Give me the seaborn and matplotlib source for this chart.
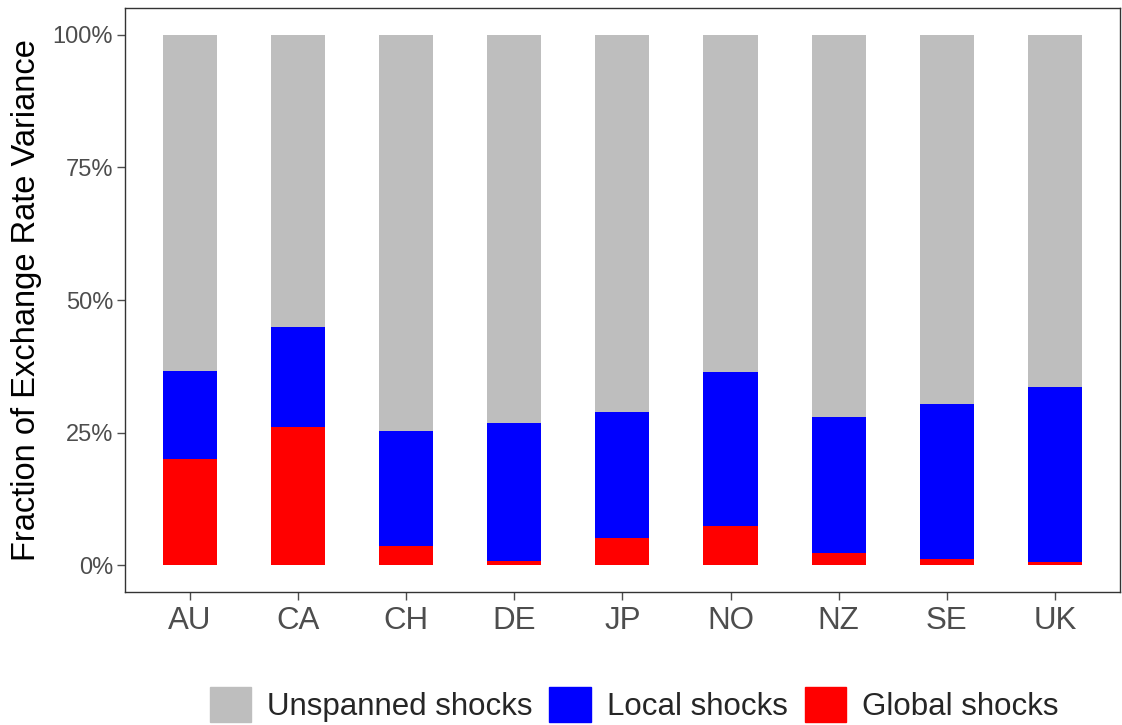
import numpy as np
import pandas as pd
import matplotlib
matplotlib.use('Agg')
import matplotlib.pyplot as plt
import matplotlib.patches as mpatches
import seaborn as sns

countries = ['AU', 'CA', 'CH', 'DE', 'JP', 'NO', 'NZ', 'SE', 'UK']
global_shocks = [20.0, 26.0, 3.7, 0.85, 5.2, 7.5, 2.4, 1.2, 0.7]
local_shocks = [16.7, 19.0, 21.6, 25.95, 23.8, 29.0, 25.5, 29.3, 33.0]
unspanned_shocks = [63.3, 55.0, 74.7, 73.2, 71.0, 63.5, 72.1, 69.5, 66.3]

df = pd.DataFrame({'country': countries, 'global': global_shocks,
                   'local': local_shocks, 'unspanned': unspanned_shocks})
df['top_local'] = df['global'] + df['local']
df['top_all'] = df['top_local'] + df['unspanned']

sns.set_style('white')
plt.rcParams['font.family'] = ['Liberation Sans', 'DejaVu Sans']

fig = plt.figure(figsize=(11.22, 7.25), dpi=100)
ax = fig.add_axes([0.1114, 0.1834, 0.998 - 0.1114, 0.989 - 0.1834])

# stacked bars: draw the running totals back to front
sns.barplot(data=df, x='country', y='top_all', color='#BEBEBE', width=0.5, ax=ax,
            saturation=1, linewidth=0, edgecolor='none')
sns.barplot(data=df, x='country', y='top_local', color='#0000FF', width=0.5, ax=ax,
            saturation=1, linewidth=0, edgecolor='none')
sns.barplot(data=df, x='country', y='global', color='#FF0000', width=0.5, ax=ax,
            saturation=1, linewidth=0, edgecolor='none')

ax.set_xlim(-0.6, 8.6)
ax.set_ylim(-5, 105)
ax.set_yticks([0, 25, 50, 75, 100])
ax.set_yticklabels(['0%', '25%', '50%', '75%', '100%'])
ax.set_xlabel('')
ax.set_ylabel('Fraction of Exchange Rate Variance', fontsize=23.5, color='black', labelpad=8)
ax.tick_params(axis='y', labelsize=17, colors='#4D4D4D', length=6, width=1, pad=2.5, left=True)
ax.tick_params(axis='x', labelsize=22.5, colors='#4D4D4D', length=6, width=1, pad=4, bottom=True)
for s in ax.spines.values():
    s.set_visible(True)
    s.set_color('#333333')
    s.set_linewidth(1)

handles = [mpatches.Patch(color='#BEBEBE', label='Unspanned shocks'),
           mpatches.Patch(color='#0000FF', label='Local shocks'),
           mpatches.Patch(color='#FF0000', label='Global shocks')]
fig.legend(handles=handles, loc='lower center', ncol=3, frameon=False,
           bbox_to_anchor=(0.565, -0.035), fontsize=22.5, handlelength=1.33,
           handleheight=1.33, handletextpad=0.5, columnspacing=0.55)

fig.savefig('out.png', dpi=100)
